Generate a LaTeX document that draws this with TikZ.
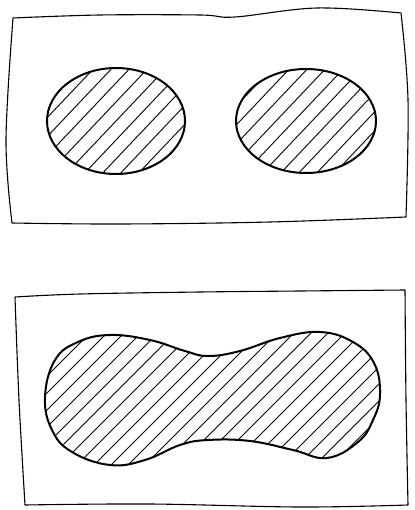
\documentclass[tikz,border=0pt]{standalone}
\usetikzlibrary{calc}
\begin{document}
\begin{tikzpicture}[x=1pt, y=-1pt, frame/.style={line width=1.1pt, line join=round},
    outline/.style={line width=2pt}, hatch/.style={line width=0.9pt}]
    \useasboundingbox (0,0) rectangle (414,510);

    \coordinate (C1) at (116,121);
    \coordinate (C2) at (306,121);
    \def\peanut{plot[smooth cycle, tension=0.7] coordinates {(45,397) (55,360) (78,342) (110,335) (150,340) (185,351) (208,356) (240,351) (280,338) (320,332) (353,342) (374,363) (380,394) (373,420) (358,442) (327,458) (293,450) (250,441) (208,440) (180,445) (145,460) (110,465) (72,452) (52,430)}}

    % upper sheet
    \draw[frame] plot[smooth, tension=0.6] coordinates {(13,18) (100,15) (200,15) (235,17) (317,8) (401,13)}
        -- plot[smooth, tension=0.6] coordinates {(401,13) (408,100) (406,217)}
        -- plot[smooth, tension=0.6] coordinates {(406,217) (270,222) (120,224) (12,223)}
        -- plot[smooth, tension=0.6] coordinates {(12,223) (6,140) (13,18)};

    \begin{scope}
        \clip (C1) ellipse [x radius=69, y radius=53];
        \foreach \k in {-10,...,10}
            \draw[hatch] ($(C1)+(\k*18,0)+(-90,95)$) -- ++(180,-190);
    \end{scope}
    \begin{scope}
        \clip (C2) ellipse [x radius=70, y radius=52];
        \foreach \k in {-10,...,10}
            \draw[hatch] ($(C2)+(\k*18+6,0)+(-90,95)$) -- ++(180,-190);
    \end{scope}
    \draw[outline] (C1) ellipse [x radius=69, y radius=53];
    \draw[outline] (C2) ellipse [x radius=70, y radius=52];

    % lower sheet
    \draw[frame] plot[smooth, tension=0.6] coordinates {(15,297) (80,294) (200,292) (300,291) (405,290)}
        -- plot[smooth, tension=0.6] coordinates {(405,290) (406,400) (408,505)}
        -- plot[smooth, tension=0.6] coordinates {(408,505) (300,507) (150,504) (25,505)}
        -- plot[smooth, tension=0.6] coordinates {(25,505) (19,400) (15,297)};

    \begin{scope}
        \clip \peanut;
        \foreach \k in {-16,...,16}
            \draw[hatch] ($(212,398)+(\k*17,0)+(-110,110)$) -- ++(220,-220);
    \end{scope}
    \draw[outline] \peanut;

\end{tikzpicture}
\end{document}
